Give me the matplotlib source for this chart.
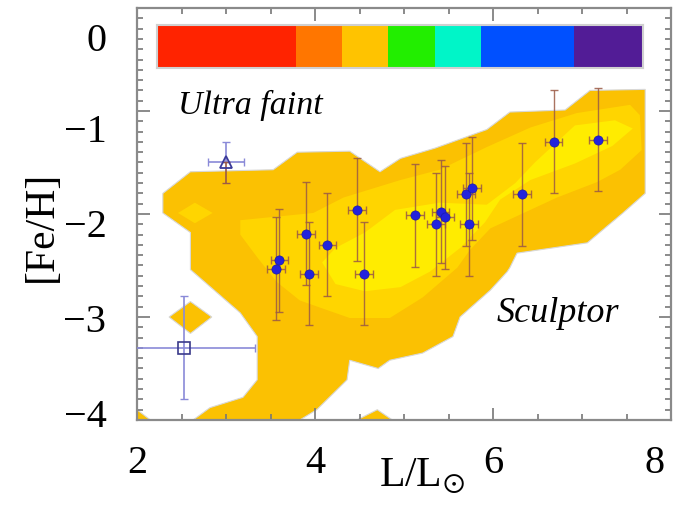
import matplotlib
matplotlib.use('Agg')
import matplotlib.pyplot as plt
from matplotlib.colors import ListedColormap, BoundaryNorm
from matplotlib.transforms import ScaledTranslation
import numpy as np

plt.rcParams['font.family'] = ['Liberation Serif', 'DejaVu Serif']
plt.rcParams['mathtext.fontset'] = 'stix'

# ---------------- data ----------------
# Sculptor stars: luminosity and metallicity
star_L = [3.60, 3.56, 3.90, 3.93, 4.14, 4.47, 4.55, 5.12, 5.36, 5.41, 5.46,
          5.70, 5.76, 5.73, 6.33, 6.68, 7.18]
star_FeH = [-2.45, -2.53, -2.19, -2.58, -2.30, -1.96, -2.58, -2.01, -2.10,
            -1.98, -2.03, -1.81, -1.75, -2.10, -1.81, -1.30, -1.28]
star_L_err = 0.1
star_FeH_err = 0.5

# Ultra-faint objects
tri_L, tri_FeH = [3.0], [-1.5]
tri_L_err, tri_FeH_err = 0.2, 0.2
sq_L, sq_FeH = [2.53], [-3.30]
sq_L_err, sq_FeH_err = 0.8, 0.5

# density contour regions (outline vertices, L and [Fe/H])
outer_L = [2.29, 2.60, 3.53, 3.80, 4.39, 4.73, 4.96, 5.35, 5.93, 6.19, 6.81,
           7.09, 7.71, 7.71, 7.46, 7.06, 6.27, 6.19, 6.16, 5.97, 5.63, 5.55,
           5.21, 4.84, 4.71, 4.39, 4.36, 4.02, 3.83, 2.63, 2.82, 3.19, 3.35,
           3.35, 3.16, 2.60, 2.60, 2.29]
outer_FeH = [-1.80, -1.59, -1.57, -1.40, -1.39, -1.59, -1.46, -1.36, -1.18,
             -1.01, -0.99, -0.80, -0.79, -1.80, -1.99, -2.28, -2.38, -2.52,
             -2.56, -2.74, -3.00, -3.19, -3.35, -3.42, -3.50, -3.42, -3.61,
             -3.90, -4.00, -4.00, -3.88, -3.78, -3.61, -3.19, -2.96, -2.54,
             -2.18, -1.99]
blob1_L = [2.36, 2.60, 2.84, 2.60]
blob1_FeH = [-3.00, -2.85, -3.00, -3.16]
blob2_L = [2.00, 2.15, 2.00]
blob2_FeH = [-3.90, -4.00, -4.00]
blob3_L = [4.47, 4.70, 4.87]
blob3_FeH = [-4.00, -3.90, -4.00]

mid_L = [3.16, 3.98, 4.32, 4.96, 5.40, 5.93, 6.42, 6.94, 7.54, 7.65, 7.67,
         7.43, 7.17, 6.72, 5.97, 5.74, 5.60, 5.21, 4.84, 4.39, 3.83, 3.57,
         3.35, 3.16]
mid_FeH = [-2.06, -1.99, -1.84, -1.67, -1.57, -1.35, -1.16, -1.02, -0.94,
           -1.04, -1.38, -1.57, -1.69, -1.84, -2.14, -2.35, -2.52, -2.81,
           -3.01, -3.01, -2.84, -2.66, -2.42, -2.20]
mid2_L = [2.46, 2.65, 2.85, 2.65]
mid2_FeH = [-1.99, -1.89, -1.99, -2.09]

inner_L = [4.08, 4.23, 4.56, 4.90, 5.40, 5.93, 6.25, 6.47, 6.92, 7.37, 7.57,
           7.34, 6.92, 6.42, 6.08, 5.91, 5.63, 5.29, 4.96, 4.56, 4.23]
inner_FeH = [-2.47, -2.33, -2.18, -1.96, -1.89, -1.91, -1.70, -1.50, -1.14,
             -1.09, -1.17, -1.34, -1.51, -1.67, -1.86, -2.08, -2.33, -2.56,
             -2.71, -2.75, -2.68]

# colour strip
cb_bounds = [0, 3, 4, 5, 6, 7, 9, 10.5]
cb_colors = ['#FF2300', '#FF7600', '#FFC300', '#22EE00', '#00F5C8',
             '#0050FF', '#521C96']

xticks = [2, 4, 6, 8]
yticks = [-4, -3, -2, -1, 0]
ytick_labels = ['\u22124', '\u22123', '\u22122', '\u22121', '0']

# ---------------- figure ----------------
fig = plt.figure(figsize=(6.8, 5.13), dpi=100)
ax = fig.add_axes([0.2015, 0.1813, 0.7853, 0.8031])
ax.set_xlim(2, 8)
ax.set_ylim(-4, 0)

c_outer, c_mid, c_inner = '#FBC102', '#FFD500', '#FFEC00'
ax.fill(outer_L, outer_FeH, color=c_outer, ec='#d8d8d8', lw=0.8, zorder=1)
for bl, bf in [(blob1_L, blob1_FeH), (blob2_L, blob2_FeH), (blob3_L, blob3_FeH)]:
    ax.fill(bl, bf, color=c_outer, ec='#d8d8d8', lw=0.8, zorder=1)
ax.fill(mid_L, mid_FeH, color=c_mid, lw=0, zorder=2)
ax.fill(mid2_L, mid2_FeH, color=c_mid, lw=0, zorder=2)
ax.fill(inner_L, inner_FeH, color=c_inner, lw=0, zorder=3)

err_c = '#9b5a45'
ax.errorbar(star_L, star_FeH, xerr=star_L_err, yerr=star_FeH_err, fmt='none',
            ecolor=err_c, elinewidth=1.0, capsize=3, capthick=1.0, alpha=0.85,
            zorder=5)
ax.plot(star_L, star_FeH, 'o', color='#2323DD', ms=6.6, mec='#1a1aaa', mew=0.5,
        zorder=6)

lav = '#8a8ad8'
ax.errorbar(tri_L, tri_FeH, xerr=tri_L_err, yerr=[[0], [tri_FeH_err]],
            fmt='none', ecolor=lav, elinewidth=1.2, capsize=3, zorder=5)
ax.errorbar(tri_L, tri_FeH, yerr=[[tri_FeH_err], [0]],
            fmt='none', ecolor=err_c, elinewidth=1.2, capsize=3, zorder=5)
ax.plot(tri_L, tri_FeH, '^', mfc='none', mec='#3a3a9a', ms=9, mew=1.3, zorder=6)

ax.errorbar(sq_L, sq_FeH, xerr=sq_L_err, yerr=sq_FeH_err, fmt='none',
            ecolor=lav, elinewidth=1.2, capsize=3, zorder=5)
ax.plot(sq_L, sq_FeH, 's', mfc='none', mec='#3a3a8a', ms=8.5, mew=1.2, zorder=6)

ax.text(2.46, -1.03, 'Ultra faint', style='italic', fontsize=24.5, zorder=7)
ax.text(6.73, -2.97, 'Sculptor', style='italic', fontsize=26, ha='center',
        va='center', zorder=7)

# axes styling
for sp in ax.spines.values():
    sp.set_color('#8a8a8a')
    sp.set_linewidth(1.6)
ax.set_xticks(xticks)
ax.set_yticks(yticks)
ax.set_yticklabels(ytick_labels)
ax.set_xticks(np.arange(2, 8.01, 0.5), minor=True)
ax.set_yticks(np.arange(-4, 0.001, 0.1), minor=True)
ax.tick_params(which='both', direction='in', top=True, right=True,
               color='#777777', labelsize=29)
ax.tick_params(which='major', length=9, width=1.2)
ax.tick_params(which='minor', length=4.5, width=1.2)
ax.tick_params(axis='y', pad=22)
ax.tick_params(axis='x', pad=18)

# individual label offsets (points, downward) to follow the original layout
y_label_shift = [-5.0, 0.7, 6.5, 12.2, 20.9]
for t, s in zip(ax.yaxis.get_major_ticks(), y_label_shift):
    t.label1.set_transform(t.label1.get_transform() +
                           ScaledTranslation(0, -s / 72, fig.dpi_scale_trans))
xtk = ax.xaxis.get_major_ticks()[-1]
xtk.label1.set_transform(xtk.label1.get_transform() +
                         ScaledTranslation(-12 / 72, 0, fig.dpi_scale_trans))

ax.set_xlabel(r'L/L$_{\odot}$', fontsize=30)
ax.set_ylabel('[Fe/H]', fontsize=30)
ax.xaxis.set_label_coords(0.534, -0.088)
ax.yaxis.set_label_coords(-0.143, 0.47)

# colour strip
cax = fig.add_axes([0.2309, 0.8674, 0.7147, 0.0838])
cmap = ListedColormap(cb_colors)
norm = BoundaryNorm(cb_bounds, cmap.N)
mids = [(a + b) / 2 for a, b in zip(cb_bounds[:-1], cb_bounds[1:])]
cax.pcolormesh(cb_bounds, [0, 1], [mids], cmap=cmap, norm=norm)
cax.set_xlim(cb_bounds[0], cb_bounds[-1])
cax.set_xticks([])
cax.set_yticks([])
for sp in cax.spines.values():
    sp.set_color('#d0d0d0')
    sp.set_linewidth(1.5)

fig.savefig('out.png', dpi=100)
